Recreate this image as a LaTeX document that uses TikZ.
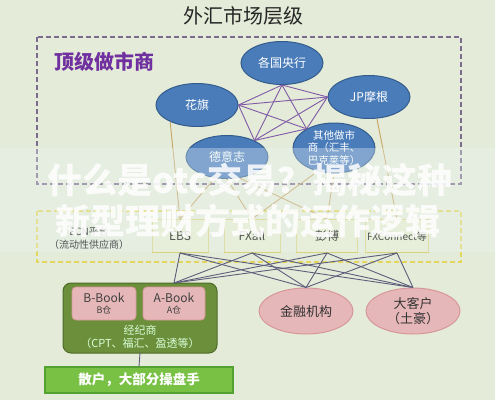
\documentclass[tikz,border=0pt]{standalone}
\usepackage{fontspec}
\setmainfont{Noto Sans CJK SC}
\usetikzlibrary{shapes.geometric}
\definecolor{bgc}{HTML}{E4EBD8}
\definecolor{mmblue}{HTML}{4A7CBA}
\definecolor{mmborder}{HTML}{335C8C}
\definecolor{purpl}{HTML}{7F5AA6}
\definecolor{toplab}{HTML}{7030A0}
\definecolor{topdash}{HTML}{7B6B8C}
\definecolor{ecndash}{HTML}{E3D65C}
\definecolor{ecnfill}{HTML}{E7ECCB}
\definecolor{ecnborder}{HTML}{D8D27C}
\definecolor{tan}{HTML}{C9A463}
\definecolor{grayl}{HTML}{5E5E7C}
\definecolor{bkgreen}{HTML}{6C8F3B}
\definecolor{bkborder}{HTML}{4F6C2A}
\definecolor{pinkf}{HTML}{E6B7B8}
\definecolor{pinkb}{HTML}{D7979A}
\definecolor{shgreen}{HTML}{78C144}
\definecolor{shborder}{HTML}{52A232}
\tikzset{
  mm/.style={ellipse, draw=mmborder, fill=mmblue, line width=1pt, minimum width=82pt, minimum height=43pt, inner sep=0pt, text=white, font=\fontsize{12}{14}\selectfont, align=center},
  ecnbox/.style={draw=ecnborder, fill=ecnfill, line width=1pt, minimum width=56pt, minimum height=33pt, inner sep=0pt, font=\fontsize{12}{14}\selectfont, align=center},
  bookbox/.style={draw=pinkb, fill=pinkf, rounded corners=4pt, line width=0.8pt, minimum width=64pt, minimum height=33pt, inner sep=0pt, align=center, text=black!75},
  client/.style={ellipse, draw=pinkb, fill=pinkf, line width=1pt, minimum width=94pt, minimum height=46pt, inner sep=0pt, font=\fontsize{13}{15}\selectfont, align=center, text=black!80},
  kline/.style={purpl, line width=0.9pt},
  tline/.style={tan, line width=0.9pt},
  gline/.style={grayl, line width=0.9pt}
}
\begin{document}
\begin{tikzpicture}[x=1pt,y=-1pt]
\useasboundingbox (0,0) rectangle (495,400);
\fill[bgc] (0,0) rectangle (495,400);
% title
\node[font=\fontsize{20}{24}\selectfont, text=black!85] (title) at (243,16) {外汇市场层级};
% top dashed frame
\draw[topdash, line width=1.4pt, dash pattern=on 5pt off 3pt] (37,37) rectangle (461,184);
\node[font=\fontsize{20}{24}\selectfont\bfseries, text=toplab, anchor=west] (toplabel) at (51,62) {顶级做市商};
% ECN dashed frame
\draw[ecndash, line width=1.4pt, dash pattern=on 5pt off 3pt] (37,211) rectangle (461,262);
% ECN boxes
\node[ecnbox] (ebs) at (180,236) {EBS};
\node[ecnbox] (fxall) at (252,236) {FXall};
\node[ecnbox, minimum width=61pt] (pb) at (327,236) {彭博};
\node[ecnbox, minimum width=63pt, font=\fontsize{10}{12}\selectfont] (fxc) at (397,236) {\\[-2pt]FXConnect等};
\node[font=\fontsize{10}{13}\selectfont, align=center] (ecnlab) at (89,238) {ECN平台\\（流动性供应商）};
% market makers
\node[mm] (yh) at (282,63) {各国央行};
\node[mm] (jp) at (369,97) {JP摩根};
\node[mm] (hq) at (197,105) {花旗};
\node[mm] (dyz) at (227,157) {德意志};
\node[mm, minimum height=50pt, font=\fontsize{10.5}{12.5}\selectfont] (qt) at (334,148) {其他做市\\商（汇丰、\\巴克莱等）};
% K5 purple links
\foreach \a/\b in {yh.south/hq.east, yh.south/jp.west, yh.south/dyz.31, yh.south/qt.145,
                   hq.east/jp.west, hq.east/dyz.31, hq.east/qt.145,
                   jp.west/dyz.31, jp.west/qt.145, dyz.31/qt.145}
  \draw[kline] (\a) -- (\b);
% tan links down to ECN
\draw[tline] (hq.212) -- (ebs.north);
\draw[tline] (dyz.south) -- (fxall.north);
\draw[tline] (dyz.300) -- (pb.north);
\draw[tline] (qt.235) -- (fxall.north);
\draw[tline] (qt.south) -- (pb.north);
\draw[tline] (dyz.240) -- (ebs.north);
\draw[tline] (jp.290) -- (fxc.north);
% broker
\draw[bkborder, fill=bkgreen, line width=1pt, rounded corners=8pt] (63,283) rectangle (217,353);
\node[bookbox] (bbook) at (104,303.5) {\fontsize{12}{13}\selectfont B-Book\\[-1pt]\fontsize{9}{11}\selectfont B仓};
\node[bookbox, minimum width=62pt] (abook) at (174,303.5) {\fontsize{12}{13}\selectfont A-Book\\[-1pt]\fontsize{9}{11}\selectfont A仓};
\node[text=white!85!green, font=\fontsize{11}{13}\selectfont, align=center] (bklab) at (140,337) {经纪商\\（CPT、福汇、盈透等）};
\coordinate (bktop) at (174,283);
\coordinate (bkbot) at (140,353);
% clients
\node[client] (jr) at (306,311) {金融机构};
\node[client] (dk) at (413,311) {大客户\\（土豪）};
% retail
\node[draw=shborder, fill=shgreen, line width=1.2pt, minimum width=188pt, minimum height=26pt, inner sep=0pt, text=white, font=\fontsize{13.5}{15}\selectfont\bfseries] (sh) at (139,380) {散户，大部分操盘手};
\draw[gline] (bkbot) -- (sh.north);
% gray links
\foreach \s in {ebs, fxall, pb, fxc}{
  \draw[gline] (\s.south) -- (bktop);
  \draw[gline] (\s.south) -- (jr.north);
  \draw[gline] (\s.south) -- (dk.north);
}
% watermark overlay
\fill[white!70!teal!30, opacity=0.35] (0,148) rectangle (495,252);
\node[text=white, opacity=0.85, font=\fontsize{35}{40}\selectfont\bfseries] (wm1) at (250,180) {什么是otc交易？揭秘这种};
\node[text=white, opacity=0.85, font=\fontsize{35}{40}\selectfont\bfseries] (wm2) at (248,221) {新型理财方式的运作逻辑};
\end{tikzpicture}
\end{document}
